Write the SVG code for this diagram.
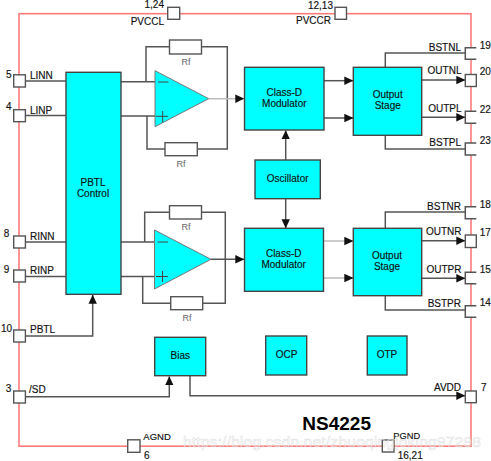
<svg xmlns="http://www.w3.org/2000/svg" width="491" height="461" viewBox="0 0 491 461">
<defs>
<marker id="ah" viewBox="0 0 9 9" refX="8.700" refY="4.500" markerWidth="9" markerHeight="9" markerUnits="userSpaceOnUse" orient="auto"><path d="M0 .3L9 4.500L0 8.700Z" fill="#111"/></marker>
</defs>
<style>
text{font-family:"Liberation Sans",Arial,sans-serif;font-size:10px;fill:#111;stroke:#111;stroke-width:.15}
.c{text-anchor:middle}
.e{text-anchor:end}
.b{fill:#00ffff;stroke:#444;stroke-width:1.400}
.p{fill:#fff;stroke:#555;stroke-width:1.400}
.w{fill:#fff;stroke:none}
.r{fill:#fff;stroke:#555;stroke-width:1.400}
.l{fill:none;stroke:#555;stroke-width:1.500}
.a{fill:none;stroke:#555;stroke-width:1.500;marker-end:url(#ah)}
.g{fill:none;stroke:#bbb;stroke-width:1.500;marker-end:url(#ah)}
text.m{font-size:9px;fill:#666;stroke:none}
</style>
<rect x="19" y="13.700" width="452" height="432.500" fill="none" stroke="#ff7b7b" stroke-width="1.600"/>
<g id="connectors">
<path class="l" d="M25 81H66M25 115.500H66M25 242H66M25 276.500H66"/>
<path class="l" d="M121 81.700H155M146 81.700V46.700H170M202 46.700H227.300V149H197M165 149H147V116M121 116H155"/>
<path class="g" d="M209 98.700H244"/>
<path class="l" d="M121 242H155M144.700 242V212.300H170M202 212.300H225.300V303.300H203M171 303.300H142.700V276.500M121 276.500H155"/>
<path class="a" d="M211 259.300H244"/>
<path class="a" d="M25 336H92.700V295"/>
<path class="a" d="M25 396.700H169.300V376.500"/>
<path class="a" d="M190 376V395.700H465"/>
<path class="a" d="M324 80.700H353"/>
<path class="a" d="M324 118H353"/>
<path class="g" d="M324 241H353"/>
<path class="g" d="M324 278H353"/>
<path class="a" d="M285.700 160V130.500"/>
<path class="a" d="M285.700 198.700V228"/>
<path class="l" d="M385.300 67V53H466M385.300 135V149H466"/>
<path class="a" d="M422 80H465"/>
<path class="a" d="M422 117.300H465"/>
<path class="l" d="M385.300 228V212H466M385.300 296V310H466"/>
<path class="a" d="M422 240.700H465"/>
<path class="a" d="M422 278.300H465"/>
</g>
<g id="pin-1-24"><rect class="p" x="167.700" y="7.300" width="12" height="12"/><text x="144.500" y="8">1,24</text><text class="e" x="164" y="25">PVCCL</text></g>
<g id="pin-12-13"><rect class="p" x="335" y="7.300" width="11.500" height="12"/><text class="e" x="333" y="9">12,13</text><text class="e" x="331" y="24">PVCCR</text></g>
<g id="pin-5"><rect class="p" x="13.700" y="74.800" width="11.700" height="12.200"/><text x="6" y="78">5</text><text x="30" y="79">LINN</text></g>
<g id="pin-4"><rect class="p" x="13.700" y="109.700" width="11.700" height="12"/><text x="6" y="110">4</text><text x="30" y="114">LINP</text></g>
<g id="pin-8"><rect class="p" x="13.700" y="236" width="11.700" height="12"/><text x="3.700" y="237">8</text><text x="30" y="240">RINN</text></g>
<g id="pin-9"><rect class="p" x="13.700" y="270" width="11.700" height="12"/><text x="3.700" y="273">9</text><text x="30" y="273.700">RINP</text></g>
<g id="pin-10"><rect class="p" x="13.700" y="330" width="11.700" height="12"/><text x="1" y="332">10</text><text x="30" y="332.700">PBTL</text></g>
<g id="pin-3"><rect class="p" x="13.700" y="391" width="11.700" height="12"/><text x="5.700" y="392">3</text><text x="29" y="393">/SD</text></g>
<g id="pin-6"><rect class="p" x="127.700" y="439.800" width="12.300" height="12.500"/><text x="143.300" y="440" style="font-size:9.500px">AGND</text><text x="144" y="459">6</text></g>
<g id="pin-16-21"><rect class="p" x="382.300" y="440" width="11.700" height="12"/><text x="393.300" y="439" style="font-size:9.300px">PGND</text><text x="397.700" y="459">16,21</text></g>
<g id="pin-19"><rect class="w" x="465.300" y="47.700" width="11" height="11.600"/><path class="l" d="M476.300 47.700H465.300V59.300H476.300"/><text x="479.700" y="49.300">19</text><text class="e" x="461" y="51">BSTNL</text></g>
<g id="pin-20"><rect class="p" x="465.300" y="74.500" width="11" height="12"/><text x="479.700" y="75">20</text><text class="e" x="461.500" y="74">OUTNL</text></g>
<g id="pin-22"><rect class="w" x="465.300" y="111.300" width="11" height="12"/><path class="l" d="M476.300 111.300H465.300V123.300H476.300"/><text x="479.700" y="113">22</text><text class="e" x="461.500" y="112">OUTPL</text></g>
<g id="pin-23"><rect class="w" x="465.300" y="143" width="11" height="12"/><path class="l" d="M476.300 143H465.300V155H476.300"/><text x="479.700" y="144">23</text><text class="e" x="461" y="146">BSTPL</text></g>
<g id="pin-18"><rect class="w" x="465.300" y="206.700" width="11" height="12"/><path class="l" d="M476.300 206.700H465.300V218.700H476.300"/><text x="479.700" y="208">18</text><text class="e" x="461" y="210">BSTNR</text></g>
<g id="pin-17"><rect class="p" x="465.300" y="235" width="11" height="12.500"/><text x="479.700" y="235.700">17</text><text class="e" x="461.500" y="235">OUTNR</text></g>
<g id="pin-15"><rect class="w" x="465.300" y="272.300" width="11" height="11.500"/><path class="l" d="M476.300 272.300H465.300V283.800H476.300"/><text x="479.700" y="273.300">15</text><text class="e" x="461.500" y="273.300">OUTPR</text></g>
<g id="pin-14"><rect class="w" x="465.300" y="305.700" width="11" height="11.500"/><path class="l" d="M476.300 305.700H465.300V317.200H476.300"/><text x="479.700" y="306">14</text><text class="e" x="461" y="306.700">BSTPR</text></g>
<g id="pin-7"><rect class="p" x="465.300" y="391" width="11" height="11.700"/><text x="481" y="391">7</text><text class="e" x="461" y="391">AVDD</text></g>
<g id="pbtl"><rect class="b" x="66" y="72.300" width="55" height="222"/><text class="c" x="93" y="186">PBTL</text><text class="c" x="93" y="197">Control</text></g>
<g id="amp-top"><path d="M155 70.700V126.700L208.700 98.700Z" fill="#00ffff" stroke="#777"/><path d="M158 82H168.500M156 116.300H168M162.700 111V122" stroke="#444" fill="none"/></g>
<g id="amp-bottom"><path d="M154.500 230V289L211 259.300Z" fill="#00ffff" stroke="#777"/><path d="M157.500 242H168M156 276.500H168M162.500 271V282" stroke="#444" fill="none"/></g>
<g id="rf1"><rect class="r" x="169.500" y="40" width="32" height="14"/><text class="c m" x="186" y="65">Rf</text></g>
<g id="rf2"><rect class="r" x="165" y="142.700" width="32.300" height="13"/><text class="c m" x="181" y="167">Rf</text></g>
<g id="rf3"><rect class="r" x="169.500" y="205.700" width="32" height="13.300"/><text class="c m" x="186" y="230">Rf</text></g>
<g id="rf4"><rect class="r" x="170.700" y="296.700" width="32" height="13"/><text class="c m" x="187" y="321">Rf</text></g>
<g id="cd1"><rect class="b" x="244.500" y="67.300" width="79.500" height="62.700"/><text class="c" x="284.300" y="95.700">Class-D</text><text class="c" x="284.300" y="106.700">Modulator</text></g>
<g id="cd2"><rect class="b" x="244.500" y="228.300" width="79" height="63"/><text class="c" x="283.700" y="256.700">Class-D</text><text class="c" x="283.700" y="267.700">Modulator</text></g>
<g id="os1"><rect class="b" x="353.300" y="67.300" width="68.400" height="68"/><text class="c" x="387.700" y="97.700">Output</text><text class="c" x="387.700" y="108.700">Stage</text></g>
<g id="os2"><rect class="b" x="353.300" y="228.300" width="68.400" height="67.400"/><text class="c" x="387" y="258.700">Output</text><text class="c" x="387" y="269.700">Stage</text></g>
<g id="osc"><rect class="b" x="255" y="160" width="65.300" height="38.700"/><text class="c" x="287.700" y="181.700">Oscillator</text></g>
<g id="bias"><rect class="b" x="154.700" y="337.300" width="51" height="38.400"/><text class="c" x="180.300" y="358.700">Bias</text></g>
<g id="ocp"><rect class="b" x="265.700" y="336" width="41" height="39"/><text class="c" x="286.500" y="358">OCP</text></g>
<g id="otp"><rect class="b" x="367.300" y="336" width="39.700" height="39"/><text class="c" x="387" y="358">OTP</text></g>
<text x="302.300" y="430" style="font-size:19px;font-weight:bold;fill:#000;stroke:none">NS4225</text>
<text x="183" y="446.500" textLength="298" lengthAdjust="spacingAndGlyphs" style="font-size:14.500px;fill:#fff;fill-opacity:.6;stroke:#888;stroke-opacity:.3;stroke-width:.5">https://blog.csdn.net/zhuoqingjoking97298</text>
</svg>
